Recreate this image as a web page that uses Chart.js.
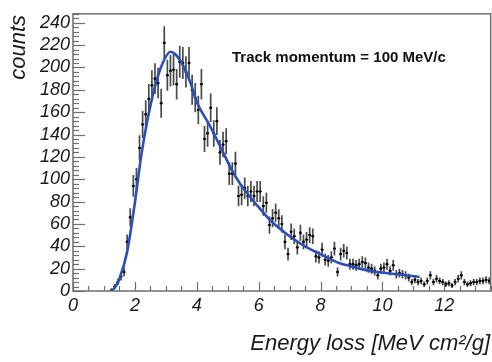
<!DOCTYPE html>
<html><head><meta charset="utf-8">
<script src="https://cdn.jsdelivr.net/npm/chart.js@4.4.1/dist/chart.umd.min.js"></script>
<style>html,body{margin:0;padding:0;background:#fff;}#wrap{width:492px;height:362px;position:relative;}</style>
</head><body><div id="wrap"><canvas id="c" width="492" height="362"></canvas></div>
<script>
// ---- data ----
const binStart = 1.25;   // centre of first filled bin
const binWidth = 0.1;
const counts = [
  1, 4, 8, 13, 17, 44, 66, 94, 100, 128,
  149, 158, 172, 184, 190, 186, 168, 222, 193, 197,
  198, 185, 205, 204, 196, 204, 180, 173, 162, 185,
  136, 141, 164, 141, 152, 124, 131, 134, 105, 105,
  114, 85, 86, 92, 85, 89, 85, 89, 89, 76,
  79, 59, 65, 70, 65, 60, 44, 33, 53, 49,
  39, 52, 44, 46, 50, 49, 31, 30, 37, 28,
  27, 30, 38, 17, 33, 36, 34, 24, 24, 23,
  24, 26, 25, 21, 20, 18, 14, 20, 21, 24,
  18, 23, 15, 16, 15, 14, 12, 8, 10, 8,
  9, 6, 9, 14, 8, 11, 9, 8, 6, 7,
  5, 8, 11, 14, 8, 6, 7, 8, 8, 9,
  9, 10, 9
];
const fitX = [1.25, 1.35, 1.5, 1.75, 2.0, 2.2, 2.4, 2.65, 2.9, 3.15, 3.3, 3.55, 3.8, 4.0, 4.4, 4.8, 5.1, 5.4, 5.7, 6.0, 6.35, 7.0, 7.5, 8.0, 8.6, 9.0, 9.6, 10.0, 10.5, 11.2];
const fitY = [0, 3, 11, 35, 79, 120, 152, 183, 204, 214, 212, 202, 186, 169, 149, 127, 110, 96, 85, 75, 64, 49, 40, 33, 25, 22, 18, 16.5, 15, 12.5];
const xTickValues = [0, 2, 4, 6, 8, 10, 12];
const xTickLabels = ['0', '2', '4', '6', '8', '10', '12'];
const yTickValues = [0, 20, 40, 60, 80, 100, 120, 140, 160, 180, 200, 220, 240];
const yTickLabels = ['0', '20', '40', '60', '80', '100', '120', '140', '160', '180', '200', '220', '240'];
const xTitle = 'Energy loss [MeV cm\u00B2/g]';
const yTitle = 'counts';
const annotation = 'Track momentum = 100 MeV/c';

// ---- build datasets ----
const pts = counts.map((n, i) => ({ x: +(binStart + i * binWidth).toFixed(3), y: n }));
const fitPts = fitX.map((x, i) => ({ x: x, y: fitY[i] }));

const AXIS = '#6e6e6e';
const FONT = '"Liberation Sans", Arial, Helvetica, sans-serif';

const errPlugin = {
  id: 'errbars',
  beforeDatasetsDraw(chart) {
    const { ctx, chartArea: a } = chart;
    const xs = chart.scales.x, ys = chart.scales.y;
    ctx.save();
    ctx.beginPath(); ctx.rect(a.left, a.top, a.right - a.left, a.bottom - a.top); ctx.clip();
    ctx.strokeStyle = '#4a4a4a';
    ctx.lineWidth = 1.7;
    pts.forEach(p => {
      const e = Math.sqrt(p.y);
      const px = xs.getPixelForValue(p.x);
      ctx.beginPath();
      ctx.moveTo(px, ys.getPixelForValue(p.y - e));
      ctx.lineTo(px, ys.getPixelForValue(p.y + e));
      ctx.stroke();
    });
    ctx.lineWidth = 1.2;
    ctx.strokeStyle = '#333';
    pts.forEach(p => {
      const py = ys.getPixelForValue(p.y);
      ctx.beginPath();
      ctx.moveTo(xs.getPixelForValue(p.x - binWidth / 2), py);
      ctx.lineTo(xs.getPixelForValue(p.x + binWidth / 2), py);
      ctx.stroke();
    });
    ctx.restore();
  }
};

const framePlugin = {
  id: 'frame',
  afterDraw(chart) {
    const { ctx, chartArea: a } = chart;
    const xs = chart.scales.x, ys = chart.scales.y;
    ctx.save();
    ctx.strokeStyle = AXIS;
    ctx.lineWidth = 1.5;
    ctx.strokeRect(a.left, a.top, a.right - a.left, a.bottom - a.top);
    // y ticks (inward)
    ctx.lineWidth = 1.2;
    for (let v = 0; v <= 248; v += 4) {
      const py = Math.round(ys.getPixelForValue(v)) + 0.5;
      const len = (v % 20 === 0) ? 12 : 6;
      ctx.beginPath(); ctx.moveTo(a.left, py); ctx.lineTo(a.left + len, py); ctx.stroke();
    }
    // x ticks (inward)
    for (let v = 0; v <= 13.5; v += 0.5) {
      const px = Math.round(xs.getPixelForValue(v)) + 0.5;
      const len = (Math.abs(v % 2) < 1e-6) ? 9 : 5;
      ctx.beginPath(); ctx.moveTo(px, a.bottom); ctx.lineTo(px, a.bottom - len); ctx.stroke();
    }
    // titles
    ctx.fillStyle = '#1a1a1a';
    ctx.font = 'italic 22px ' + FONT;
    ctx.textAlign = 'right';
    ctx.textBaseline = 'alphabetic';
    ctx.fillText(xTitle, 490, 350);
    ctx.save();
    ctx.translate(25, 15);
    ctx.rotate(-Math.PI / 2);
    ctx.fillText(yTitle, 0, 0);
    ctx.restore();
    // annotation
    ctx.font = 'bold 15px ' + FONT;
    ctx.textAlign = 'left';
    ctx.fillStyle = '#111';
    ctx.fillText(annotation, 232, 62);
    ctx.restore();
  }
};

new Chart(document.getElementById('c'), {
  type: 'scatter',
  data: {
    datasets: [
      {
        label: 'fit',
        data: fitPts,
        showLine: true,
        borderColor: '#2b4fb8',
        borderWidth: 2.6,
        pointRadius: 0,
        cubicInterpolationMode: 'monotone',
        fill: false
      },
      {
        label: 'data',
        data: pts,
        showLine: false,
        pointRadius: 1.3,
        pointHoverRadius: 1.3,
        backgroundColor: '#000',
        borderColor: '#000',
        borderWidth: 0
      }
    ]
  },
  options: {
    responsive: false,
    devicePixelRatio: 1,
    animation: false,
    events: [],
    layout: { padding: { top: 6, right: 1, bottom: 21, left: 0 } },
    plugins: { legend: { display: false }, tooltip: { enabled: false } },
    scales: {
      x: {
        type: 'linear', position: 'bottom', min: 0, max: 13.5,
        grid: { display: false, drawTicks: false },
        border: { display: false },
        afterBuildTicks: s => { s.ticks = xTickValues.map(v => ({ value: v })); },
        afterFit: s => { s.height = 50; },
        ticks: {
          padding: 4, maxRotation: 0, autoSkip: false, color: '#1a1a1a',
          font: { family: FONT, size: 18, style: 'italic' },
          callback: v => xTickLabels[xTickValues.indexOf(v)]
        }
      },
      y: {
        type: 'linear', position: 'left', min: 0, max: 248,
        grid: { display: false, drawTicks: false },
        border: { display: false },
        afterBuildTicks: s => { s.ticks = yTickValues.map(v => ({ value: v })); },
        afterFit: s => { s.width = 73; },
        ticks: {
          padding: 3, autoSkip: false, color: '#1a1a1a',
          font: { family: FONT, size: 18, style: 'italic' },
          callback: v => yTickLabels[yTickValues.indexOf(v)]
        }
      }
    }
  },
  plugins: [errPlugin, framePlugin]
});
</script></body></html>
